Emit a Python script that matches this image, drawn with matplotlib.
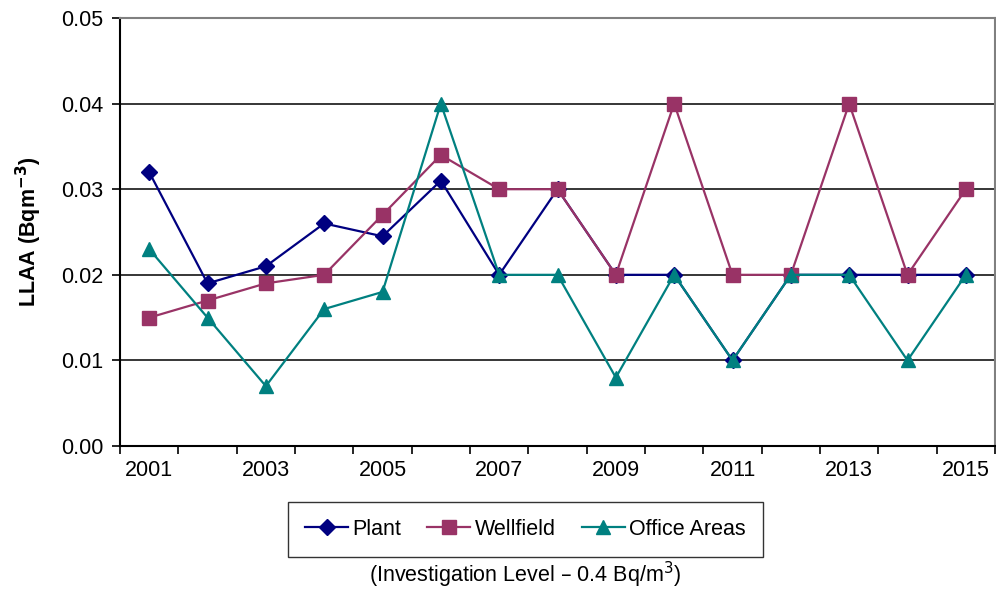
import matplotlib
matplotlib.use('Agg')
import matplotlib.pyplot as plt
import numpy as np
from matplotlib.ticker import FixedLocator, FormatStrFormatter

plt.rcParams['font.family'] = ['Liberation Sans', 'DejaVu Sans']

years = list(range(2001, 2016))
plant = [0.032, 0.019, 0.021, 0.026, 0.0245, 0.031, 0.020, 0.030,
         0.020, 0.020, 0.010, 0.020, 0.020, 0.020, 0.020]
wellfield = [0.015, 0.017, 0.019, 0.020, 0.027, 0.034, 0.030, 0.030,
             0.020, 0.040, 0.020, 0.020, 0.040, 0.020, 0.030]
office = [0.023, 0.015, 0.007, 0.016, 0.018, 0.040, 0.020, 0.020,
          0.008, 0.020, 0.010, 0.020, 0.020, 0.010, 0.020]
year_labels = [str(y) for y in years[::2]]

fs = 15.5
fig = plt.figure(figsize=(9.96, 5.9), dpi=100)
ax = fig.add_axes([0.1205, 0.244, 0.8785, 0.7255])

ax.plot(years, plant, color='#000080', marker='D', ms=8.5, lw=1.6, label='Plant')
ax.plot(years, wellfield, color='#993366', marker='s', ms=10, lw=1.6, label='Wellfield')
ax.plot(years, office, color='#008080', marker='^', ms=10.5, lw=1.6, label='Office Areas')

ax.set_xlim(2000.5, 2015.5)
ax.set_ylim(0, 0.05)
ax.set_yticks(np.arange(0, 0.051, 0.01))
ax.yaxis.set_major_formatter(FormatStrFormatter('%.2f'))
ax.set_xticks(years[::2])
ax.set_xticklabels(year_labels)
ax.xaxis.set_minor_locator(FixedLocator(np.arange(2000.5, 2016, 1)))
ax.tick_params(axis='x', which='major', length=0, pad=10, labelsize=fs)
ax.tick_params(axis='x', which='minor', length=6, width=1.2, direction='out')
ax.tick_params(axis='y', length=6, width=1.2, pad=6, labelsize=fs)

for v in [0.01, 0.02, 0.03, 0.04]:
    ax.axhline(v, color='black', lw=1.1, zorder=0)

for s in ['top', 'right']:
    ax.spines[s].set_color('#808080')
    ax.spines[s].set_linewidth(1.5)
for s in ['left', 'bottom']:
    ax.spines[s].set_linewidth(1.5)

ax.set_ylabel('LLAA (Bqm$^{\\mathbf{-3}}$)', fontsize=fs, fontweight='bold', labelpad=12)

leg = fig.legend(loc='center', bbox_to_anchor=(0.5276, 0.103), ncol=3, fontsize=fs,
                 frameon=True, fancybox=False, edgecolor='black', handlelength=2.0,
                 columnspacing=1.2, handletextpad=0.2, borderpad=0.8)
leg.get_frame().set_linewidth(1.0)

fig.text(0.5276, 0.026, '(Investigation Level \u2013 0.4 Bq/m$^3$)', ha='center', va='center', fontsize=fs)

fig.savefig('out.png', dpi=100)
